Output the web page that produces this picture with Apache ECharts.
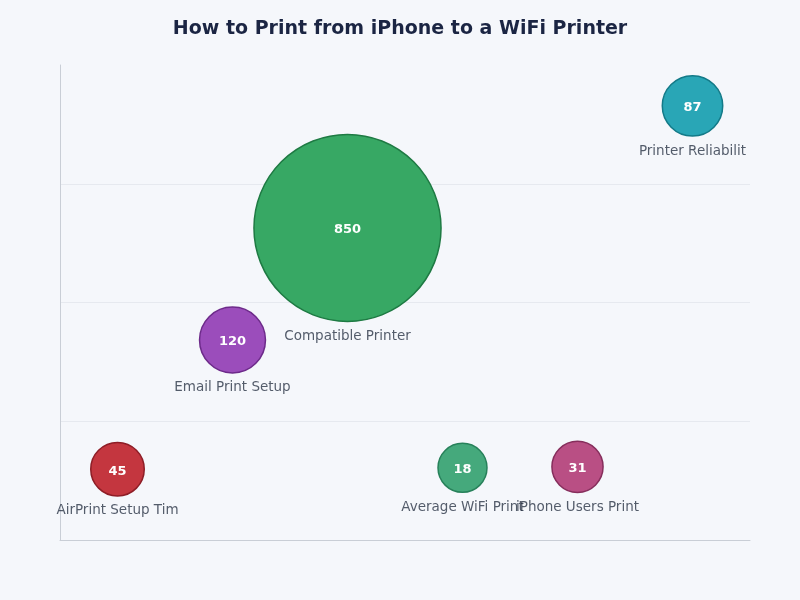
<!DOCTYPE html>
<html>
<head>
<meta charset="utf-8">
<script src="https://cdn.jsdelivr.net/npm/echarts@6/dist/echarts.min.js"></script>
<style>
  html, body { margin: 0; padding: 0; background: #f5f7fb; }
  #chart-container { width: 800px; height: 600px; }
</style>
</head>
<body>
<div id="chart-container"></div>
<script>
// categories along x, position on y, bubble value
const names = [
    'AirPrint Setup Tim', 'Email Print Setup', 'Compatible Printer',
    'Average WiFi Print', 'iPhone Users Print', 'Printer Reliabilit'
];
const yValues = [14.9, 42.1, 65.7, 15.2, 15.4, 91.4];
const bubbleValues = [45, 120, 850, 18, 31, 87];
const fillColors = ['#c4363f', '#9b4dbb', '#37a864', '#45a97c', '#b94f84', '#29a6b6'];
const borderColors = ['#8e1d26', '#6d2a8a', '#1e7a43', '#27815a', '#862e5c', '#137a88'];

var dom = document.getElementById('chart-container');
var myChart = echarts.init(dom);

const bubbleSize = function (v) {
    return 46 + v[2] * 0.166;
};

const data = names.map(function (name, i) {
    return {
        value: [name, yValues[i], bubbleValues[i]],
        itemStyle: {
            color: fillColors[i],
            borderColor: borderColors[i],
            borderWidth: 1.5,
            opacity: 1
        }
    };
});

const nameData = names.map(function (name, i) {
    return { value: [name, yValues[i], bubbleValues[i]] };
});

var option = {
    backgroundColor: '#f5f7fb',
    title: {
        text: 'How to Print from iPhone to a WiFi Printer',
        left: 'center',
        top: 15,
        textStyle: {
            fontFamily: 'DejaVu Sans',
            fontSize: 19,
            fontWeight: 'bold',
            color: '#1b2543'
        }
    },
    grid: {
        left: 60,
        right: 50,
        top: 65,
        bottom: 60
    },
    xAxis: {
        type: 'category',
        data: names,
        boundaryGap: true,
        axisLine: { lineStyle: { color: '#c9ced6' } },
        axisTick: { show: false },
        axisLabel: { show: false },
        splitLine: { show: false }
    },
    yAxis: {
        type: 'value',
        min: 0,
        max: 100,
        interval: 25,
        axisLine: { show: true, lineStyle: { color: '#c9ced6' } },
        axisTick: { show: false },
        axisLabel: { show: false },
        splitLine: { showMaxLine: false, lineStyle: { color: '#e6e9ef' } }
    },
    series: [
        {
            type: 'scatter',
            data: data,
            symbolSize: bubbleSize,
            label: {
                show: true,
                position: 'inside',
                formatter: function (p) {
                    return p.value[2];
                },
                color: '#ffffff',
                fontFamily: 'DejaVu Sans',
                fontSize: 13,
                fontWeight: 'bold',
                offset: [0, 2]
            },
            z: 2
        },
        {
            type: 'scatter',
            data: nameData,
            symbolSize: bubbleSize,
            itemStyle: { color: 'transparent', borderWidth: 0 },
            silent: true,
            label: {
                show: true,
                position: 'bottom',
                distance: 8,
                formatter: function (p) {
                    return p.value[0];
                },
                color: '#2b3546',
                fontFamily: 'DejaVu Sans',
                fontSize: 13.5
            },
            z: 3
        }
    ]
};

myChart.setOption(option);
</script>
</body>
</html>
